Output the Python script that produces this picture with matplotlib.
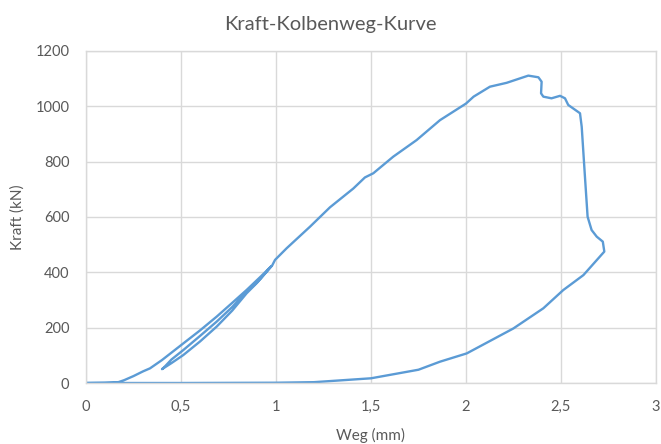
import matplotlib
matplotlib.use("Agg")
import matplotlib.pyplot as plt

# Weg (mm) und Kraft (kN)
# Erstbelastung bis ca. 420 kN
load1_x = [0, 0.1, 0.17, 0.2, 0.25, 0.3, 0.337, 0.4, 0.512, 0.6, 0.688, 0.77, 0.845, 0.92, 0.975]
load1_y = [0, 1, 3, 10, 25, 42, 53, 83, 143, 190, 240, 290, 336, 385, 422]

# Entlastung
unload1_x = [0.9, 0.845, 0.77, 0.688, 0.6, 0.512, 0.45, 0.40]
unload1_y = [362, 324, 262, 204, 150, 101, 72, 50]

# Wiederbelastung und weiter bis zum Bruch
reload_x = [0.41, 0.45, 0.512, 0.6, 0.688, 0.77, 0.845, 0.92, 0.98, 0.995, 1.056, 1.179,
            1.284, 1.407, 1.468, 1.512, 1.617, 1.74, 1.863, 2.0, 2.04, 2.126, 2.214, 2.284,
            2.328, 2.381, 2.398, 2.395, 2.407, 2.45, 2.495, 2.521, 2.538, 2.6, 2.609,
            2.626, 2.64, 2.661, 2.688, 2.72, 2.728]
reload_y = [56, 85, 119, 170, 222, 275, 330, 378, 425, 445, 487, 565,
            635, 703, 743, 758, 818, 878, 950, 1010, 1035, 1071, 1085, 1101,
            1111, 1105, 1089, 1047, 1035, 1029, 1038, 1029, 1005, 975, 926,
            746, 601, 553, 529, 511, 475]

# Rueckweg
back_x = [2.618, 2.512, 2.407, 2.249, 2.004, 1.863, 1.75, 1.5, 1.2, 1.0, 0.5, 0]
back_y = [390, 336, 270, 197, 107, 77, 48, 17, 3, 1, 0, 0]

weg = load1_x + unload1_x + reload_x + back_x
kraft = load1_y + unload1_y + reload_y + back_y

x_ticks = [0, 0.5, 1, 1.5, 2, 2.5, 3]
x_tick_labels = ["0", "0,5", "1", "1,5", "2", "2,5", "3"]
y_ticks = [0, 200, 400, 600, 800, 1000, 1200]

text_color = "#595959"
grid_color = "#D9D9D9"
line_color = "#5B9BD5"

plt.rcParams["font.family"] = ["Lato", "DejaVu Sans"]

fig = plt.figure(figsize=(6.61, 4.44), dpi=100)
ax = fig.add_axes([86 / 661, 61 / 444, 570 / 661, 332 / 444])

ax.plot(weg, kraft, color=line_color, linewidth=1.7, solid_joinstyle="round")

ax.set_xlim(0, 3)
ax.set_ylim(0, 1200)
ax.set_xticks(x_ticks)
ax.set_xticklabels(x_tick_labels)
ax.set_yticks(y_ticks)
ax.tick_params(axis="both", length=0, labelsize=10.5, colors=text_color)
ax.tick_params(axis="x", pad=12)
ax.tick_params(axis="y", pad=12)

ax.grid(True, color=grid_color, linewidth=1)
ax.set_axisbelow(True)
for spine in ax.spines.values():
    spine.set_color(grid_color)
    spine.set_linewidth(1)

ax.set_xlabel("Weg (mm)", fontsize=11, color=text_color, labelpad=10)
ax.set_ylabel("Kraft (kN)", fontsize=11, color=text_color, labelpad=8)
fig.suptitle("Kraft-Kolbenweg-Kurve", fontsize=14.5, color=text_color, y=0.965)

fig.savefig("out.png", dpi=100)
